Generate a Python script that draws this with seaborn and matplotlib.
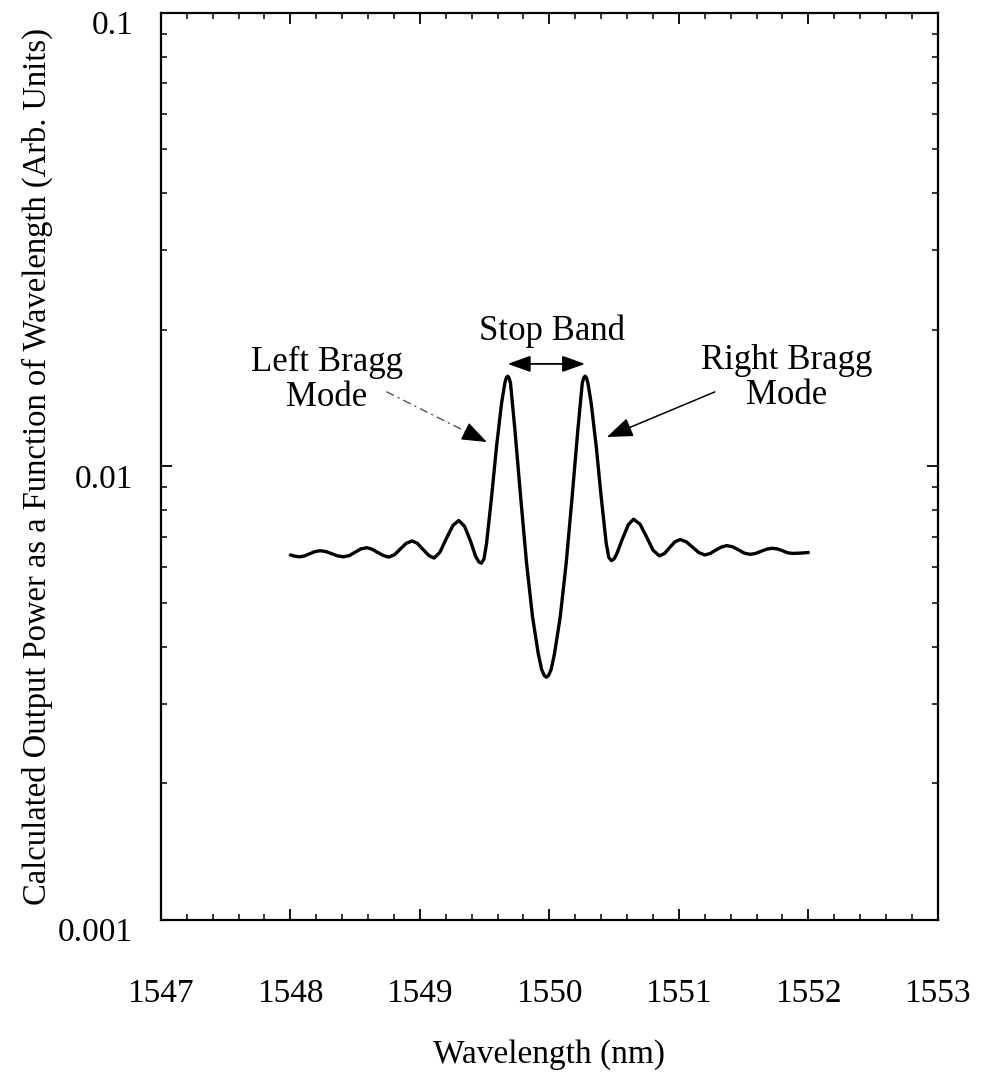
import numpy as np
import pandas as pd
import matplotlib
matplotlib.use("Agg")
import matplotlib.pyplot as plt
import matplotlib.ticker as mticker
import matplotlib.transforms as mtransforms
import seaborn as sns

# Calculated output spectrum of the DFB structure
wavelength_nm = [
    1548.000, 1548.035, 1548.070, 1548.110, 1548.150, 1548.190, 1548.230,
    1548.275, 1548.320, 1548.365, 1548.410, 1548.455, 1548.500, 1548.545,
    1548.590, 1548.630, 1548.675, 1548.720, 1548.760, 1548.805, 1548.850,
    1548.895, 1548.940, 1548.980, 1549.025, 1549.070, 1549.110, 1549.155,
    1549.205, 1549.255, 1549.300, 1549.345, 1549.390, 1549.430, 1549.455,
    1549.475, 1549.495, 1549.515, 1549.554, 1549.592, 1549.631, 1549.656,
    1549.667, 1549.678, 1549.689, 1549.700, 1549.734, 1549.778, 1549.824,
    1549.870, 1549.914, 1549.940, 1549.960, 1549.977, 1549.994, 1550.014,
    1550.040, 1550.084, 1550.130, 1550.176, 1550.220, 1550.254, 1550.265,
    1550.276, 1550.287, 1550.298, 1550.323, 1550.362, 1550.400, 1550.439,
    1550.459, 1550.479, 1550.499, 1550.520, 1550.565, 1550.610, 1550.650,
    1550.700, 1550.750, 1550.800, 1550.850, 1550.890, 1550.930, 1550.970,
    1551.010, 1551.058, 1551.105, 1551.153, 1551.200, 1551.243, 1551.285,
    1551.328, 1551.370, 1551.415, 1551.460, 1551.505, 1551.550, 1551.593,
    1551.635, 1551.678, 1551.720, 1551.760, 1551.800, 1551.840, 1551.880,
    1551.940, 1552.000,
]
output_power = [
    0.00638, 0.00634, 0.00632, 0.00635, 0.00642, 0.00649, 0.00652,
    0.00649, 0.00642, 0.00635, 0.00632, 0.00636, 0.00647, 0.00658,
    0.00662, 0.00657, 0.00646, 0.00636, 0.00631, 0.00639, 0.00658,
    0.00677, 0.00685, 0.00677, 0.00656, 0.00636, 0.00628, 0.00647,
    0.00694, 0.00741, 0.00760, 0.00738, 0.00686, 0.00634, 0.00616,
    0.00612, 0.00625, 0.00677, 0.00858, 0.01106, 0.01379, 0.01526,
    0.01567, 0.01582, 0.01567, 0.01526, 0.01204, 0.00858, 0.00612,
    0.00466, 0.00387, 0.00357, 0.00346, 0.00343, 0.00346, 0.00357,
    0.00387, 0.00466, 0.00612, 0.00858, 0.01204, 0.01526, 0.01567,
    0.01582, 0.01567, 0.01526, 0.01379, 0.01106, 0.00858, 0.00677,
    0.00630, 0.00620, 0.00625, 0.00641, 0.00693, 0.00744, 0.00765,
    0.00746, 0.00700, 0.00654, 0.00635, 0.00643, 0.00663, 0.00682,
    0.00690, 0.00682, 0.00664, 0.00646, 0.00638, 0.00643, 0.00654,
    0.00664, 0.00669, 0.00665, 0.00655, 0.00644, 0.00640, 0.00643,
    0.00650, 0.00657, 0.00660, 0.00658, 0.00652, 0.00645, 0.00643,
    0.00644, 0.00646,
]

x_ticks = [1547, 1548, 1549, 1550, 1551, 1552, 1553]
y_ticks = [0.001, 0.01, 0.1]
y_tick_labels = ["0.001", "0.01", "0.1"]

left_mode_nm, right_mode_nm = 1549.678, 1550.276

spectrum = pd.DataFrame({"Wavelength": wavelength_nm, "Power": output_power})

sns.set_theme(style="ticks")
plt.rcParams["font.family"] = ["Liberation Serif", "DejaVu Serif"]
plt.rcParams["text.color"] = "black"
plt.rcParams["axes.labelcolor"] = "black"

fig = plt.figure(figsize=(9.81, 10.74), dpi=100)
ax = fig.add_axes([0.164, 0.1434, 0.792, 0.8446])

sns.lineplot(data=spectrum, x="Wavelength", y="Power", ax=ax,
             color="black", linewidth=2.4, sort=False, estimator=None)

ax.set_yscale("log")
ax.set_xlim(1547, 1553)
ax.set_ylim(0.001, 0.1)

ax.xaxis.set_major_locator(mticker.FixedLocator(x_ticks))
ax.xaxis.set_major_formatter(mticker.FixedFormatter([str(t) for t in x_ticks]))
ax.xaxis.set_minor_locator(mticker.MultipleLocator(0.2))
ax.yaxis.set_major_locator(mticker.FixedLocator(y_ticks))
ax.yaxis.set_major_formatter(mticker.FixedFormatter(y_tick_labels))
ax.yaxis.set_minor_locator(mticker.LogLocator(base=10, subs=np.arange(2, 10)))
ax.yaxis.set_minor_formatter(mticker.NullFormatter())

ax.tick_params(which="both", direction="in", top=True, right=True,
               color="black", labelcolor="black")
ax.tick_params(which="major", length=8, width=1.3)
ax.tick_params(which="minor", length=4.5, width=1.1)
ax.tick_params(axis="x", which="major", labelsize=24, pad=42)
ax.tick_params(axis="y", which="major", labelsize=24, pad=20)

# nudge the y tick labels slightly downward
offset = mtransforms.ScaledTranslation(0, -7 / 72, fig.dpi_scale_trans)
for lbl in ax.get_yticklabels():
    lbl.set_transform(lbl.get_transform() + offset)

for side in ax.spines.values():
    side.set_linewidth(1.6)
    side.set_color("black")

ax.set_xlabel("Wavelength (nm)", fontsize=24, labelpad=22)
ax.set_ylabel("Calculated Output Power as a Function of Wavelength (Arb. Units)",
              fontsize=23.5, labelpad=4)
ax.grid(False)

# stop band marker between the two Bragg modes
ax.annotate("", xy=(right_mode_nm, 0.01683), xytext=(left_mode_nm, 0.01683),
            arrowprops=dict(arrowstyle="<|-|>,head_length=0.7,head_width=0.25",
                            color="black", lw=1.3, shrinkA=0, shrinkB=0,
                            mutation_scale=20))
ax.text(1550.02, 0.0199, "Stop Band", fontsize=25, ha="center", va="center")

# left mode: faint dash-dot leader with a solid head
ax.text(1548.28, 0.01552, "Left Bragg\nMode", fontsize=25, ha="center",
        va="center", linespacing=1.05)
ax.annotate("", xy=(1549.50, 0.01138), xytext=(1548.745, 0.0146),
            arrowprops=dict(arrowstyle="-", color="#444444", lw=0.9,
                            linestyle=(0, (6, 4, 1, 4)),
                            shrinkA=0, shrinkB=0))
ax.annotate("", xy=(1549.517, 0.01132), xytext=(1549.463, 0.01152),
            arrowprops=dict(arrowstyle="-|>,head_length=0.8,head_width=0.3",
                            color="black", lw=0.8, shrinkA=0, shrinkB=0,
                            mutation_scale=20))

ax.text(1551.834, 0.01567, "Right Bragg\nMode", fontsize=25, ha="center",
        va="center", linespacing=1.05)
ax.annotate("", xy=(1550.444, 0.01161), xytext=(1551.278, 0.0146),
            arrowprops=dict(arrowstyle="-|>,head_length=0.8,head_width=0.3",
                            color="black", lw=1.1, shrinkA=0, shrinkB=0,
                            mutation_scale=20))

fig.savefig("out.png", dpi=100, facecolor="white")
